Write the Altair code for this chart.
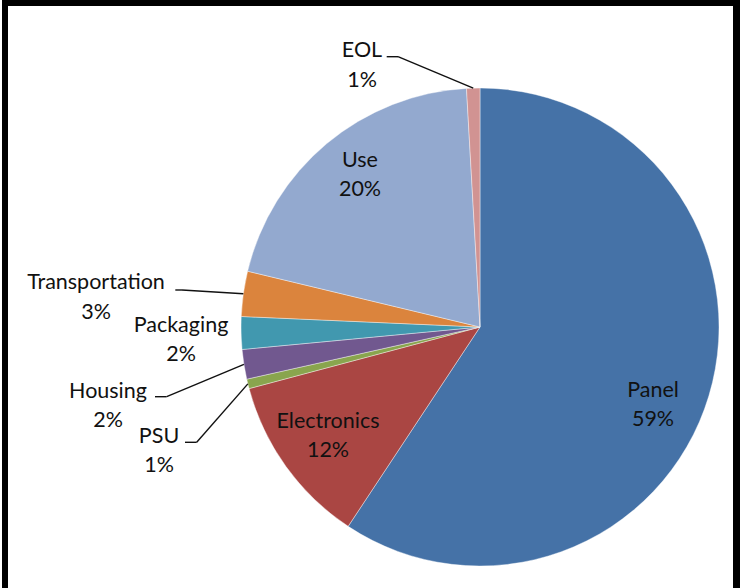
import altair as alt
import pandas as pd

# ---- data ----
categories = ["Panel", "Electronics", "PSU", "Housing", "Packaging", "Transportation", "Use", "EOL"]
shares = [59.3, 11.55, 0.65, 2.0, 2.2, 3.05, 20.35, 0.9]
pct_labels = ["59%", "12%", "1%", "2%", "2%", "3%", "20%", "1%"]
colors = ["#4572A7", "#AA4643", "#89A54E", "#71588F", "#4198AF", "#DB843D", "#93A9CF", "#D19392"]

# ---- layout (label anchors and leader-line elbows, in pixels) ----
CX, CY, R = 480, 327, 239
label_x = [653, 328, 159, 108, 181, 96, 360, 362]
label_y = [396.7, 427.7, 442.7, 397.7, 331.7, 289.3, 166.7, 57.3]
lead_x0 = [None, None, 185, 155, None, 175.3, None, 386.7]
lead_x1 = [None, None, 196.7, 166.7, None, 182, None, 398]
lead_y = [None, None, 442.3, 396.7, None, 290, None, 56.7]

df = pd.DataFrame({
    "idx": list(range(len(categories))),
    "category": categories,
    "share": shares,
    "pct": pct_labels,
    "lx": label_x,
    "ly": label_y,
    "x0": lead_x0,
    "x1": lead_x1,
    "y0": lead_y,
})
df["label"] = df["category"] + "\n" + df["pct"]

base = alt.Chart(df)

pie = base.mark_arc(stroke="white", strokeWidth=0.4).encode(
    theta=alt.Theta("share:Q", stack=True),
    color=alt.Color("category:N", scale=alt.Scale(domain=categories, range=colors), legend=None),
    order=alt.Order("idx:Q", sort="ascending"),
    x=alt.value(CX),
    y=alt.value(CY),
    radius=alt.value(R),
)

cum = (
    base.transform_window(cum="sum(share)", sort=[alt.SortField("idx")])
    .transform_joinaggregate(total="sum(share)")
    .transform_calculate(mid="2*PI*(datum.cum - datum.share/2)/datum.total")
    .transform_calculate(ex=f"{CX} + {R}*sin(datum.mid)", ey=f"{CY} - {R}*cos(datum.mid)")
    .transform_filter("isValid(datum.x0)")
)

seg1 = cum.mark_rule(color="#111111", strokeWidth=1.4).encode(
    x=alt.X("x0:Q", scale=None, axis=None), x2="x1:Q",
    y=alt.Y("y0:Q", scale=None, axis=None), y2="y0:Q",
)
seg2 = cum.mark_rule(color="#111111", strokeWidth=1.4).encode(
    x=alt.X("x1:Q", scale=None, axis=None), x2="ex:Q",
    y=alt.Y("y0:Q", scale=None, axis=None), y2="ey:Q",
)

texts = base.mark_text(
    font="Lato", fontSize=21.5, lineBreak="\n", lineHeight=29.5,
    baseline="alphabetic", align="center", color="#111111",
).encode(
    x=alt.X("lx:Q", scale=None, axis=None),
    y=alt.Y("ly:Q", scale=None, axis=None),
    text="label:N",
)

dummy = alt.Chart(pd.DataFrame({"a": [0]}))
top = dummy.mark_rule(color="black", strokeWidth=6).encode(x=alt.value(2), x2=alt.value(740), y=alt.value(3))
left = dummy.mark_rule(color="black", strokeWidth=6).encode(x=alt.value(5), y=alt.value(0), y2=alt.value(588))
right = dummy.mark_rule(color="black", strokeWidth=7).encode(x=alt.value(736.5), y=alt.value(0), y2=alt.value(588))

chart = alt.layer(pie, seg1, seg2, texts, top, left, right).properties(
    width=742, height=588, autosize=alt.AutoSizeParams(type="none"), padding=0,
    background="white",
).configure_view(stroke=None)

chart.save("out.html", embed_options={"renderer": "svg", "actions": False})
